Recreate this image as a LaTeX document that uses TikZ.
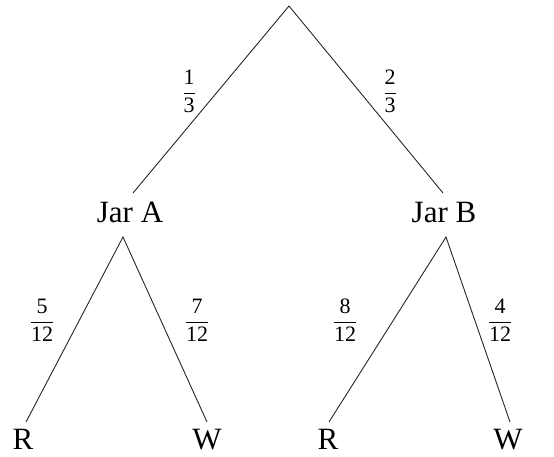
\documentclass[tikz,border=0pt]{standalone}
\usepackage{fontspec}
\setmainfont{Liberation Serif}
\begin{document}
\begin{tikzpicture}[x=1pt,y=1pt,
  branch/.style={line width=0.9pt, black!85},
  lbl/.style={font=\fontsize{31}{36}\selectfont, inner sep=0pt, anchor=base},
  prob/.style={font=\fontsize{22}{26}\selectfont, inner sep=0pt}]
\useasboundingbox (0,0) rectangle (554,457);
% branching points
\coordinate (top) at (289,451);
\coordinate (Aup) at (133,264);
\coordinate (Bup) at (443,264);
\coordinate (Adown) at (123,220);
\coordinate (Bdown) at (446,220);
\coordinate (RAend) at (26,35);
\coordinate (WAend) at (207,35);
\coordinate (RBend) at (329,35);
\coordinate (WBend) at (510,35);
% labels
\node[lbl] (jarA) at (130,234) {Jar A};
\node[lbl] (jarB) at (444,234) {Jar B};
\node[lbl] (RA) at (23,7) {R};
\node[lbl] (WA) at (207,7) {W};
\node[lbl] (RB) at (328,7) {R};
\node[lbl] (WB) at (508,7) {W};
% branches
\draw[branch] (Aup) -- (top) -- (Bup);
\draw[branch] (RAend) -- (Adown) -- (WAend);
\draw[branch] (RBend) -- (Bdown) -- (WBend);
% probabilities
\node[prob] (pA) at (189,366) {$\displaystyle\frac{\mbox{1}}{\mbox{3}}$};
\node[prob] (pB) at (390,366) {$\displaystyle\frac{\mbox{2}}{\mbox{3}}$};
\node[prob] (pAR) at (42,137) {$\displaystyle\frac{\mbox{5}}{\mbox{12}}$};
\node[prob] (pAW) at (197,137) {$\displaystyle\frac{\mbox{7}}{\mbox{12}}$};
\node[prob] (pBR) at (345,137) {$\displaystyle\frac{\mbox{8}}{\mbox{12}}$};
\node[prob] (pBW) at (500,137) {$\displaystyle\frac{\mbox{4}}{\mbox{12}}$};
\end{tikzpicture}
\end{document}
